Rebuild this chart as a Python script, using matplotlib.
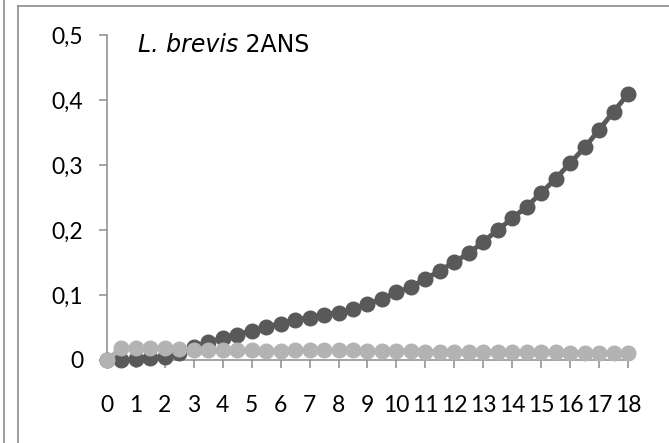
import matplotlib
matplotlib.use("Agg")
from matplotlib import pyplot as plt
from matplotlib.lines import Line2D

days = [0, 0.5, 1, 1.5, 2, 2.5, 3, 3.5, 4, 4.5, 5, 5.5, 6, 6.5, 7, 7.5, 8, 8.5, 9,
        9.5, 10, 10.5, 11, 11.5, 12, 12.5, 13, 13.5, 14, 14.5, 15, 15.5, 16, 16.5,
        17, 17.5, 18]

dark_y = [0, 0.000, 0.001, 0.003, 0.005, 0.011, 0.020, 0.027, 0.034, 0.039,
          0.045, 0.051, 0.056, 0.062, 0.065, 0.070, 0.073, 0.079, 0.086, 0.094,
          0.104, 0.112, 0.125, 0.137, 0.151, 0.164, 0.182, 0.200, 0.218, 0.236,
          0.257, 0.279, 0.303, 0.327, 0.354, 0.382, 0.409]

light_y = [0, 0.019, 0.019, 0.018, 0.018, 0.017, 0.016, 0.016, 0.015, 0.015,
           0.015, 0.014, 0.014, 0.015, 0.015, 0.015, 0.015, 0.015, 0.014, 0.014,
           0.014, 0.014, 0.013, 0.013, 0.013, 0.013, 0.013, 0.012, 0.012, 0.012,
           0.012, 0.012, 0.011, 0.011, 0.011, 0.011, 0.011]

x_ticks = list(range(0, 19))
y_ticks = [0, 0.1, 0.2, 0.3, 0.4, 0.5]
y_labels = ["0", "0,1", "0,2", "0,3", "0,4", "0,5"]

W, H = 669, 443
fig = plt.figure(figsize=(W / 100, H / 100), dpi=100)
ax = fig.add_axes([107 / W, 1 - 360 / H, (628 - 107) / W, (360 - 35) / H])

ax.plot(days, dark_y, color="#595959", linewidth=3.5, marker="o",
        markersize=10.5, clip_on=False, zorder=3)
ax.plot(days, light_y, color="#b3b3b3", linewidth=3.5, marker="o",
        markersize=10.5, clip_on=False, zorder=4)

ax.set_xlim(0, 18)
ax.set_ylim(0, 0.5)
ax.set_xticks(x_ticks)
ax.set_xticklabels([str(t) for t in x_ticks])
ax.set_yticks(y_ticks)
ax.set_yticklabels(y_labels)

for side in ["top", "right"]:
    ax.spines[side].set_visible(False)
for side in ["left", "bottom"]:
    ax.spines[side].set_color("#8c8c8c")
    ax.spines[side].set_linewidth(1.1)

ax.tick_params(axis="both", direction="out", length=6, width=1.1,
               color="#8c8c8c", labelsize=16.5, labelcolor="black")
ax.tick_params(axis="x", pad=19)
ax.tick_params(axis="y", pad=11)
for lbl in ax.get_xticklabels() + ax.get_yticklabels():
    lbl.set_fontfamily("Lato")

# chart frame lines
frame_kw = dict(transform=fig.transFigure, color="#8c8c8c", linewidth=1.2)
fig.add_artist(Line2D([18 / W, 1], [1 - 6 / H, 1 - 6 / H], **frame_kw))
fig.add_artist(Line2D([18 / W, 18 / W], [0, 1 - 6 / H], **frame_kw))
fig.add_artist(Line2D([3.5 / W, 3.5 / W], [0, 1], **frame_kw))

# title: species name in italics
title_y = 1 - 45 / H
t1 = fig.text(138 / W, title_y, "L. brevis", fontsize=17, style="italic",
              family="DejaVu Sans", va="center")
fig.canvas.draw()
bb = t1.get_window_extent()
fig.text(bb.x1 / W, title_y, " 2ANS", fontsize=17,
         family="DejaVu Sans", va="center")

fig.savefig("out.png", dpi=100)
